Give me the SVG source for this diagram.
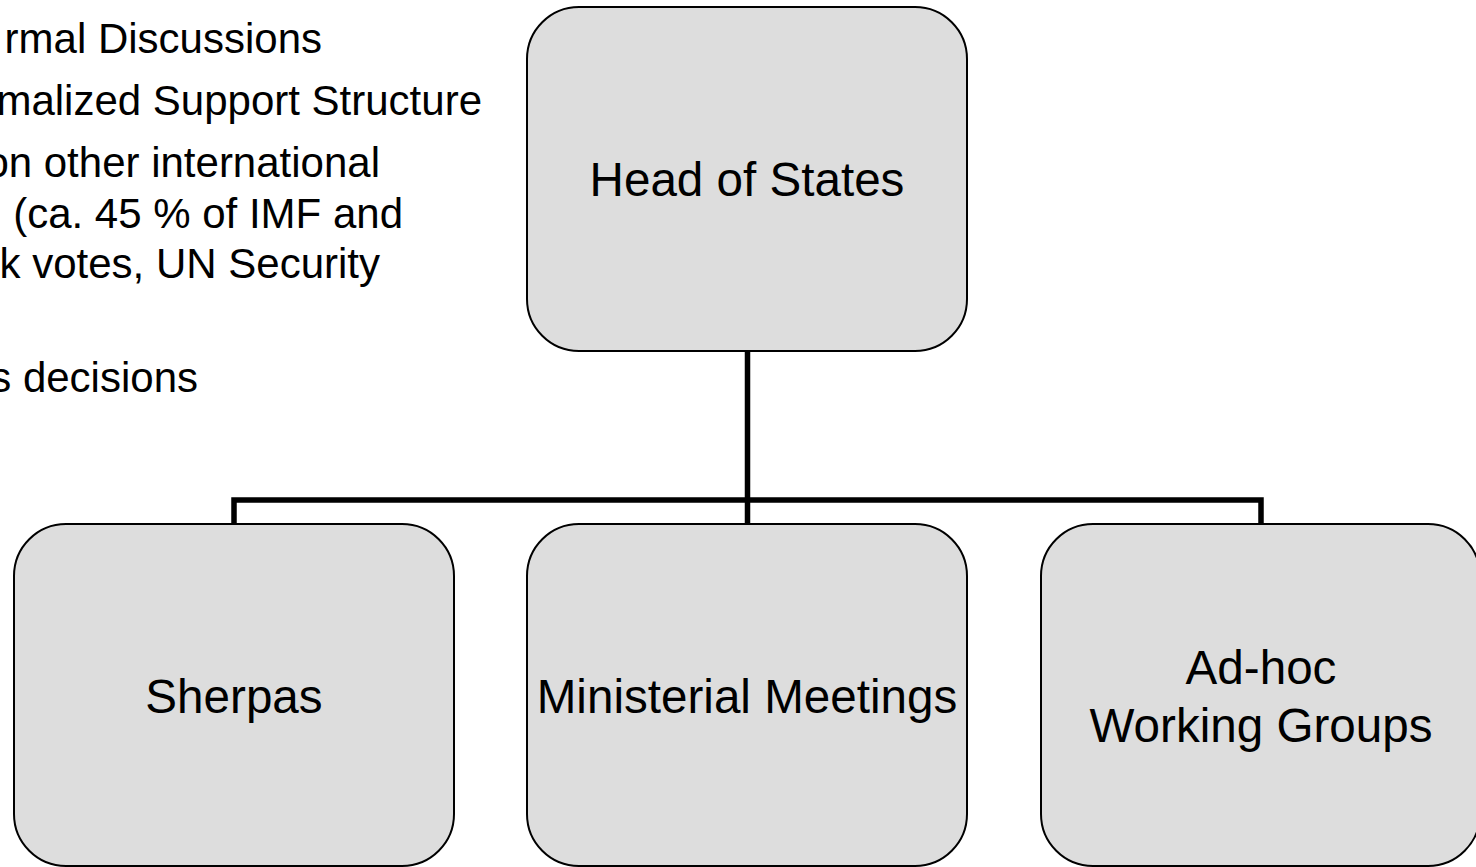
<svg xmlns="http://www.w3.org/2000/svg" width="1476" height="867" viewBox="0 0 1476 867">
<style>
.box{fill:#dddddd;stroke:#000;stroke-width:2}
.lbl{font-family:"Liberation Sans",Arial,sans-serif;font-size:47.6px;fill:#000;text-anchor:middle}
.note{font-family:"Liberation Sans",Arial,sans-serif;font-size:42px;fill:#000;text-anchor:end}
.conn{fill:none;stroke:#000;stroke-width:5.5;stroke-linejoin:miter}
</style>
<rect width="1476" height="867" fill="#fff"/>
<g id="notes">
<text class="note" x="322" y="53">rmal Discussions</text>
<text class="note" x="482" y="115">malized Support Structure</text>
<text class="note" x="380" y="177">on other international</text>
<text class="note" x="403" y="228">(ca. 45 % of IMF and</text>
<text class="note" x="380" y="278">k votes, UN Security</text>
<text class="note" x="198" y="392">s decisions</text>
</g>
<g id="connectors">
<path class="conn" d="M747.5,351 V524"/>
<path class="conn" d="M234,524 V500 H1261 V524"/>
</g>
<g id="head">
<rect class="box" x="527" y="7" width="440" height="344" rx="52" ry="52"/>
<text class="lbl" x="747" y="196">Head of States</text>
</g>
<g id="sherpas">
<rect class="box" x="14" y="524" width="440" height="342" rx="52" ry="52"/>
<text class="lbl" x="234" y="713">Sherpas</text>
</g>
<g id="ministerial">
<rect class="box" x="527" y="524" width="440" height="342" rx="52" ry="52"/>
<text class="lbl" x="747" y="713">Ministerial Meetings</text>
</g>
<g id="adhoc">
<rect class="box" x="1041" y="524" width="439" height="342" rx="52" ry="52"/>
<text class="lbl" x="1261" y="684">Ad-hoc</text>
<text class="lbl" x="1261" y="742">Working Groups</text>
</g>
</svg>
